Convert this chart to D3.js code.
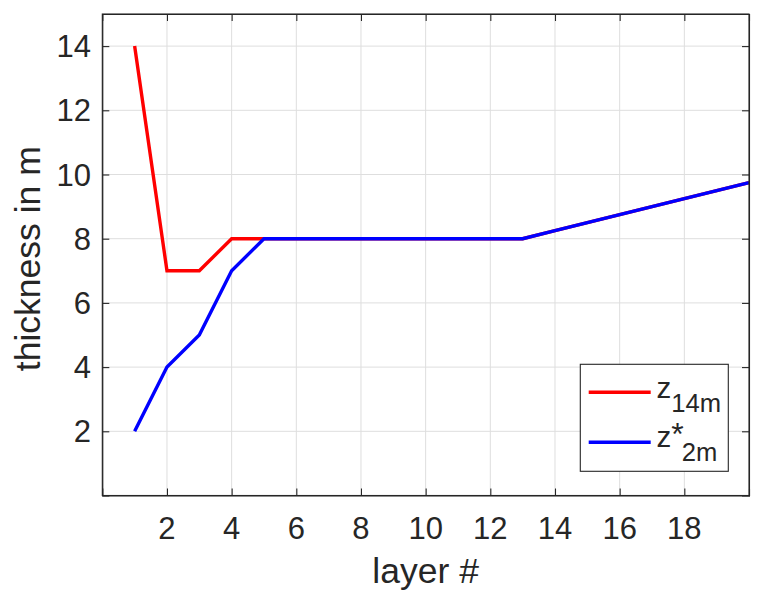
<!DOCTYPE html>
<html>
<head>
<meta charset="utf-8">
<script src="https://cdn.jsdelivr.net/npm/d3@7"></script>
<style>
  html, body { margin: 0; padding: 0; background: #fff; }
  text { font-family: "Liberation Sans", Arial, Helvetica, sans-serif; fill: #262626; }
</style>
</head>
<body>
<svg id="chart" width="763" height="605"></svg>
<script>
// ---- data ----
const layers = [1,2,3,4,5,6,7,8,9,10,11,12,13,14,15,16,17,18,19,20];
const z14m   = [14,7,7,8,8,8,8,8,8,8,8,8,8,8.25,8.5,8.75,9,9.25,9.5,9.75];
const zStar2m= [2,4,5,7,8,8,8,8,8,8,8,8,8,8.25,8.5,8.75,9,9.25,9.5,9.75];
const xTicks = [2,4,6,8,10,12,14,16,18];
const yTicks = [2,4,6,8,10,12,14];
const xDomain = [0,20];
const yDomain = [0,15];
const xLabel = "layer #";
const yLabel = "thickness in m";

// ---- layout ----
const L = 102.3, R = 749, T = 14, B = 495.5;
const svg = d3.select("#chart");
const x = d3.scaleLinear().domain(xDomain).range([L, R]);
const y = d3.scaleLinear().domain(yDomain).range([B, T]);
const axisColor = "#262626";
const gridColor = "#dedede";

// grid
const g = svg.append("g");
g.selectAll("line.gx").data(xTicks).join("line")
  .attr("x1", d => x(d)).attr("x2", d => x(d)).attr("y1", T).attr("y2", B)
  .attr("stroke", gridColor).attr("stroke-width", 1);
g.selectAll("line.gy").data(yTicks).join("line")
  .attr("x1", L).attr("x2", R).attr("y1", d => y(d)).attr("y2", d => y(d))
  .attr("stroke", gridColor).attr("stroke-width", 1);

// lines
const line = d3.line().x((d, i) => x(layers[i])).y(d => y(d));
svg.append("path").datum(z14m).attr("d", line)
  .attr("fill", "none").attr("stroke", "#ff0000").attr("stroke-width", 3.4);
svg.append("path").datum(zStar2m).attr("d", line)
  .attr("fill", "none").attr("stroke", "#0000ff").attr("stroke-width", 3.4);

// axes (inner ticks, box)
const tickLen = 7;
const xb = svg.append("g").attr("transform", `translate(0,${B})`)
  .call(d3.axisBottom(x).tickValues(xTicks).tickSize(-tickLen).tickFormat(""));
const xt = svg.append("g").attr("transform", `translate(0,${T})`)
  .call(d3.axisTop(x).tickValues(xTicks).tickSize(-tickLen).tickFormat(""));
const yl = svg.append("g").attr("transform", `translate(${L},0)`)
  .call(d3.axisLeft(y).tickValues(yTicks).tickSize(-tickLen).tickFormat(""));
const yr = svg.append("g").attr("transform", `translate(${R},0)`)
  .call(d3.axisRight(y).tickValues(yTicks).tickSize(-tickLen).tickFormat(""));
[xb, xt, yl, yr].forEach(a => {
  a.selectAll("path.domain").attr("stroke", axisColor).attr("stroke-width", 1.1);
  a.selectAll(".tick line").attr("stroke", axisColor).attr("stroke-width", 1.1);
});
svg.append("rect").attr("x", L).attr("y", T).attr("width", R - L).attr("height", B - T)
  .attr("fill", "none").attr("stroke", axisColor).attr("stroke-width", 1.1);

// tick labels
const tickFont = 31;
svg.selectAll("text.xt").data(xTicks).join("text")
  .attr("x", d => x(d)).attr("y", 539)
  .attr("text-anchor", "middle").attr("font-size", tickFont).text(d => d);
svg.selectAll("text.yt").data(yTicks).join("text")
  .attr("x", 91).attr("y", d => y(d) + tickFont * 0.358)
  .attr("text-anchor", "end").attr("font-size", tickFont).text(d => d);

// axis labels
svg.append("text")
  .attr("x", (L + R) / 2).attr("y", 583)
  .attr("text-anchor", "middle").attr("font-size", 35.5).text(xLabel);
svg.append("text")
  .attr("transform", `translate(40,${(T + B) / 2 + 4}) rotate(-90)`)
  .attr("text-anchor", "middle").attr("font-size", 35.5).text(yLabel);

// legend
const lg = svg.append("g");
lg.append("rect").attr("x", 580.3).attr("y", 364.3).attr("width", 148).attr("height", 107)
  .attr("fill", "#fff").attr("stroke", axisColor).attr("stroke-width", 1.1);
const entries = [
  { color: "#ff0000", ly: 392.3 },
  { color: "#0000ff", ly: 442.3 }
];
entries.forEach(e => {
  lg.append("line").attr("x1", 588.7).attr("x2", 650.7).attr("y1", e.ly).attr("y2", e.ly)
    .attr("stroke", e.color).attr("stroke-width", 3.4);
});
// entry 1: z_{14m}
const t1 = lg.append("text").attr("x", 656.5).attr("y", 397.7).attr("font-size", 29.5);
t1.append("tspan").text("z");
t1.append("tspan").attr("dy", 14).attr("dx", 0).attr("font-size", 25.6).text("14m");
// entry 2: z^*_{2m}
const t2 = lg.append("text").attr("x", 656.5).attr("y", 446.7).attr("font-size", 29.5);
t2.append("tspan").text("z");
t2.append("tspan").attr("dy", -1.5).attr("dx", 0).attr("font-size", 32).text("*");
t2.append("tspan").attr("dy", 15.8).attr("dx", -2).attr("font-size", 25.6).text("2m");
</script>
</body>
</html>
